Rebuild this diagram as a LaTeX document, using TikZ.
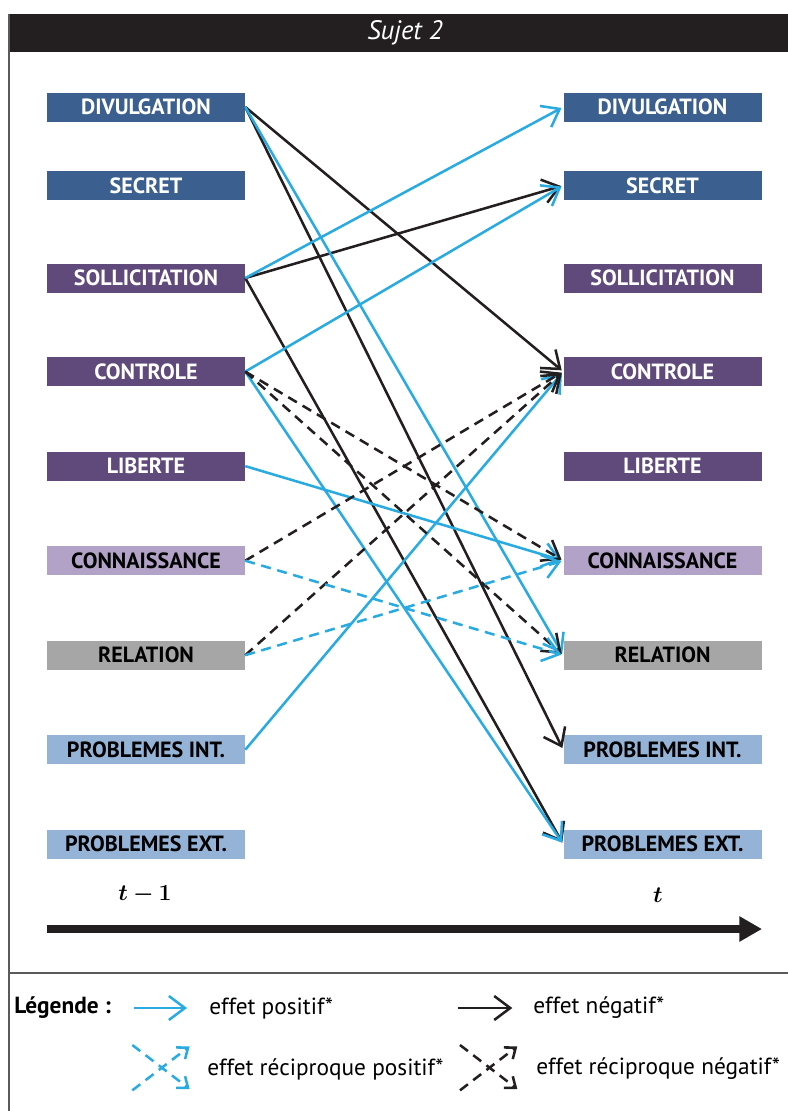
\documentclass[tikz,border=0pt]{standalone}
\usepackage{fontspec}
\setmainfont{PT Sans}
\usepackage{amsmath}
\usepackage{bm}
\usetikzlibrary{arrows.meta, positioning}
\definecolor{inkblack}{RGB}{35, 31, 32}
\definecolor{rulegray}{RGB}{90, 90, 90}
\definecolor{varblue}{RGB}{59, 96, 143}
\definecolor{varpurple}{RGB}{96, 74, 123}
\definecolor{varlilac}{RGB}{178, 162, 199}
\definecolor{vargray}{RGB}{166, 166, 166}
\definecolor{varsky}{RGB}{149, 179, 215}
\definecolor{posblue}{RGB}{41, 171, 226}

\begin{document}
\begin{tikzpicture}[
          x=0.75pt, y=-0.75pt,
          node distance=48.75pt and 238.5pt,
          box/.style={minimum width=148.5pt, minimum height=21.75pt, inner sep=0pt,
                      font=\bfseries\fontsize{16.5}{18}\selectfont},
          boxblue/.style={box, fill=varblue, text=white},
          boxpurple/.style={box, fill=varpurple, text=white},
          boxlilac/.style={box, fill=varlilac, text=black},
          boxgray/.style={box, fill=vargray, text=black},
          boxsky/.style={box, fill=varsky, text=black},
          lbl/.style={font=\fontsize{17.5}{20}\selectfont, anchor=west, inner sep=0pt},
          posarr/.style={-{Straight Barb[length=12pt, width=18pt]}, line width=1.9pt,
                      color=posblue, shorten >=1.5pt},
          negarr/.style={posarr, color=inkblack},
          rposarr/.style={posarr, dash pattern=on 7.5pt off 5pt},
          rnegarr/.style={negarr, dash pattern=on 7.5pt off 5pt},
          icon/.style={-{Straight Barb[length=7pt, width=11pt]}, shorten >=0pt},
        ]
        \useasboundingbox (0,0) rectangle (788,1111);

        % frame and title bar
        \fill[inkblack] (9,14) rectangle (788,52);
        \node[font=\itshape\fontsize{20}{22}\selectfont, text=white] (title) at (405,33) {Sujet 2};
        \draw[line width=1.5pt, color=rulegray] (9,14) -- (9,1111);
        \draw[line width=1.5pt, color=rulegray] (9,973) -- (788,973);

        % variables at t-1
        \node[boxblue] (divL) at (146,107) {DIVULGATION};
        \node[boxblue, below=36.75pt of divL] (secL) {SECRET};
        \node[boxpurple, below=47.25pt of secL] (solL) {SOLLICITATION};
        \node[boxpurple, below=48pt of solL] (conL) {CONTROLE};
        \node[boxpurple, below=of conL] (libL) {LIBERTE};
        \node[boxlilac, below=of libL] (knoL) {CONNAISSANCE};
        \node[boxgray, below=of knoL] (relL) {RELATION};
        \node[boxsky, below=of relL] (pinL) {PROBLEMES INT.};
        \node[boxsky, below=of pinL] (pexL) {PROBLEMES EXT.};

        % variables at t
        \node[boxblue, right=of divL] (divR) {DIVULGATION};
        \node[boxblue, right=of secL] (secR) {SECRET};
        \node[boxpurple, right=of solL] (solR) {SOLLICITATION};
        \node[boxpurple, right=of conL] (conR) {CONTROLE};
        \node[boxpurple, right=of libL] (libR) {LIBERTE};
        \node[boxlilac, right=of knoL] (knoR) {CONNAISSANCE};
        \node[boxgray, right=of relL] (relR) {RELATION};
        \node[boxsky, right=of pinL] (pinR) {PROBLEMES INT.};
        \node[boxsky, right=of pexL] (pexR) {PROBLEMES EXT.};

        % negative effects
        \draw[negarr] (divL.east) -- (conR.west);
        \draw[negarr] (divL.east) -- (pinR.west);
        \draw[negarr] (solL.east) -- (secR.west);
        \draw[negarr] (solL.east) -- (pexR.west);

        % positive effects
        \draw[posarr] (divL.east) -- (relR.west);
        \draw[posarr] (solL.east) -- (divR.west);
        \draw[posarr] (conL.east) -- (secR.west);
        \draw[posarr] (conL.east) -- (pexR.west);
        \draw[posarr] (libL.east) -- (knoR.west);
        \draw[posarr] (pinL.east) -- (conR.west);

        % reciprocal effects
        \draw[rnegarr] (conL.east) -- (knoR.west);
        \draw[rnegarr] (conL.east) -- (relR.west);
        \draw[rnegarr] (knoL.east) -- (conR.west);
        \draw[rnegarr] (relL.east) -- (conR.west);
        \draw[rposarr] (knoL.east) -- (relR.west);
        \draw[rposarr] (relL.east) -- (knoR.west);

        % time axis
        \node[font=\fontsize{16.5}{18}\selectfont] (tPrev) at (145,895) {$\bm{t-1}$};
        \node[font=\fontsize{16.5}{18}\selectfont] (tNow) at (658,895) {$\bm{t}$};
        \coordinate (axisS) at (47,929);
        \coordinate (axisE) at (762,929);
        \draw[-{Triangle[length=17pt, width=18pt]}, line width=6pt, color=inkblack] (axisS) -- (axisE);

        % legend
        \node[lbl, font=\bfseries\fontsize{17.5}{20}\selectfont] (legTitle) at (14,1008) {Légende :};
        \node[lbl] (legPos) at (209,1008) {effet positif*};
        \node[lbl] (legNeg) at (533,1008) {effet négatif*};
        \node[lbl] (legRpos) at (207,1069) {effet réciproque positif*};
        \node[lbl] (legRneg) at (536,1069) {effet réciproque négatif*};

        \draw[posarr] ([xshift=17pt]legTitle.east) -- ([xshift=-15pt]legPos.west);
        \draw[negarr] ([xshift=-56pt]legNeg.west) -- ([xshift=-14pt]legNeg.west);
        \draw[rposarr, icon] ([shift={(-56pt,18pt)}]legRpos.west) -- ([shift={(-13pt,-15pt)}]legRpos.west);
        \draw[rposarr, icon] ([shift={(-56pt,-16pt)}]legRpos.west) -- ([shift={(-13pt,17pt)}]legRpos.west);
        \draw[rnegarr, icon] ([shift={(-57pt,18pt)}]legRneg.west) -- ([shift={(-14pt,-15pt)}]legRneg.west);
        \draw[rnegarr, icon] ([shift={(-57pt,-16pt)}]legRneg.west) -- ([shift={(-14pt,17pt)}]legRneg.west);
      \end{tikzpicture}
\end{document}
